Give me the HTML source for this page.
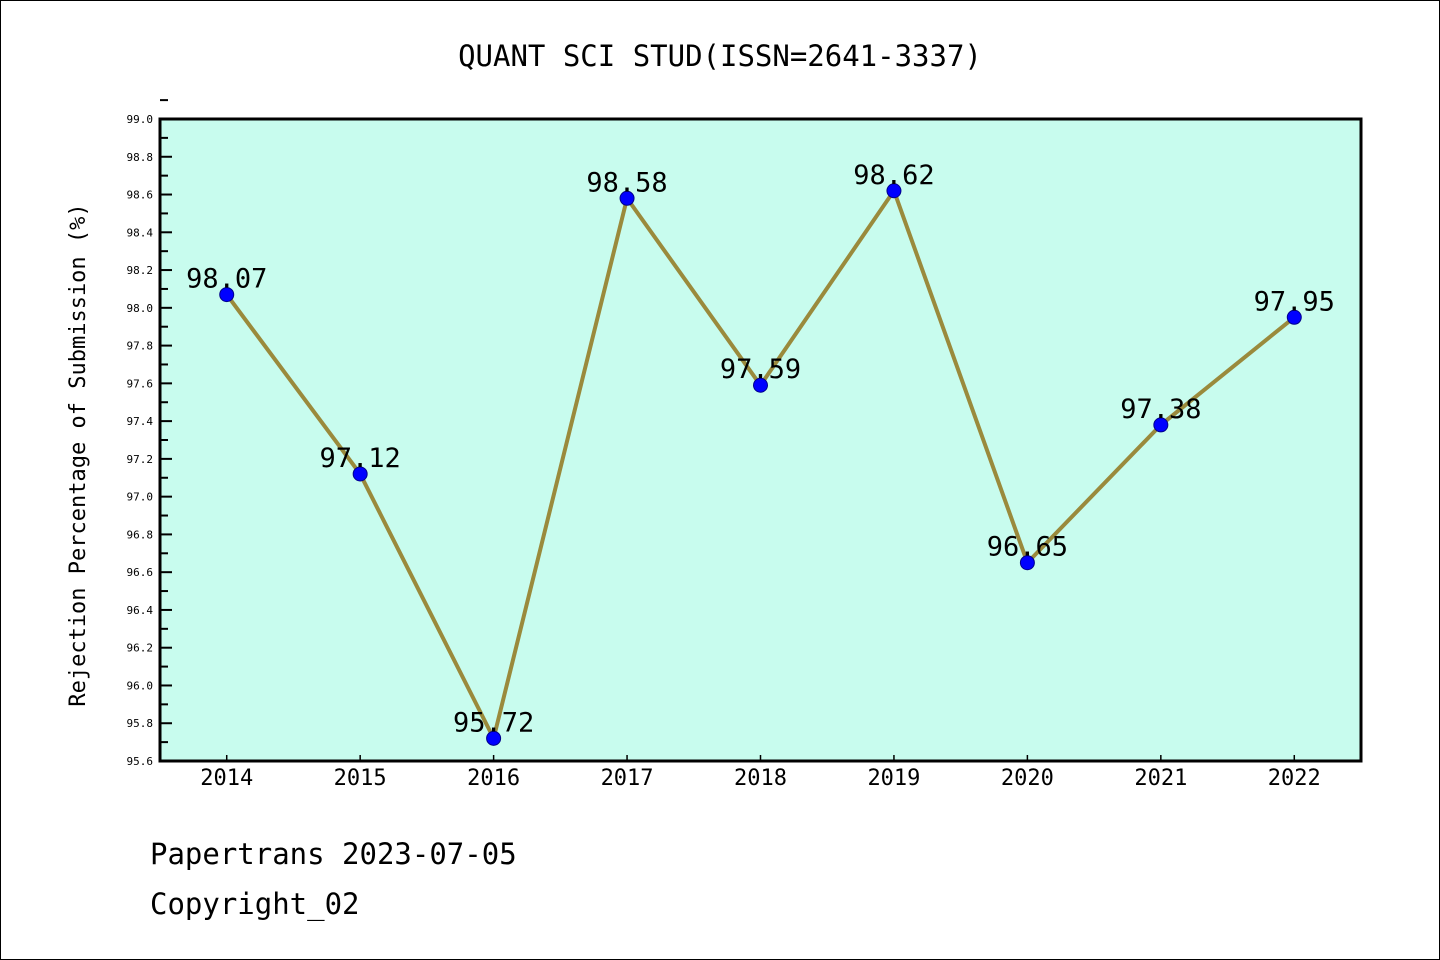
<!DOCTYPE html>
<html><head><meta charset="utf-8"><style>
body{margin:0;background:#fff}
svg{display:block}
text{font-family:"DejaVu Sans Mono","Liberation Mono",monospace}
</style></head><body>
<svg id="c" width="1440" height="960">
<rect x="0.5" y="0.5" width="1439" height="959" fill="#fff" stroke="#000"/>
<text x="720" y="66" text-anchor="middle" font-size="29">QUANT SCI STUD(ISSN=2641-3337)</text>
<rect x="160" y="119" width="1201" height="642" fill="#c8fcee"/>
<g id="yt"></g><g id="xt"></g><g id="series"></g>
<rect x="160" y="119" width="1201" height="642" fill="none" stroke="#000" stroke-width="3"/>
<text transform="translate(85,455) rotate(-90)" text-anchor="middle" font-size="22">Rejection Percentage of Submission (%)</text>
<text x="150" y="864" font-size="29">Papertrans 2023-07-05</text>
<text x="150" y="914" font-size="29">Copyright_02</text>
</svg>
<script>
const years=[2014,2015,2016,2017,2018,2019,2020,2021,2022];
const values=[98.07,97.12,95.72,98.58,97.59,98.62,96.65,97.38,97.95];
const yTicks=[95.6,95.8,96.0,96.2,96.4,96.6,96.8,97.0,97.2,97.4,97.6,97.8,98.0,98.2,98.4,98.6,98.8,99.0];
const NS='http://www.w3.org/2000/svg';
const X=v=>160+(v-2013.5)*(1201/9);
const Y=v=>761-(v-95.6)*(642/3.4);
function mk(t,a,p){const e=document.createElementNS(NS,t);for(const k in a)e.setAttribute(k,a[k]);p.appendChild(e);return e;}
const yt=document.getElementById('yt');
yTicks.forEach(v=>{
 const l=mk('line',{x1:160,x2:172,y1:Y(v),y2:Y(v),stroke:'#000','stroke-width':2},yt);
 
 
 const m=mk('line',{x1:160,x2:168,y1:Y(v+0.1),y2:Y(v+0.1),stroke:'#000','stroke-width':2},yt);
 
 
 const t=mk('text',{x:153,y:Y(v)+4,'text-anchor':'end','font-size':11},yt);
 t.textContent=v.toFixed(1);
 
 
});
const xt=document.getElementById('xt');
years.forEach(y=>{
 const l=mk('line',{x1:X(y),x2:X(y),y1:761,y2:755,stroke:'#000','stroke-width':1.5},xt);
 
 
 const t=mk('text',{x:X(y),y:785,'text-anchor':'middle','font-size':22},xt);
 t.textContent=y;
 
 
});
const s=document.getElementById('series');
const pl=mk('polyline',{points:years.map((y,i)=>X(y)+','+Y(values[i])).join(' '),fill:'none',stroke:'#9a8a3c','stroke-width':4},s);


years.forEach((y,i)=>{
 const c=mk('circle',{cx:X(y),cy:Y(values[i]),r:7,fill:'#0000ff',stroke:'#00008b','stroke-width':1},s);
 
 
 const t=mk('text',{x:X(y),y:Y(values[i])-7,'text-anchor':'middle','font-size':27},s);
 t.textContent=values[i].toFixed(2);
 
 
});
</script>
</body></html>
